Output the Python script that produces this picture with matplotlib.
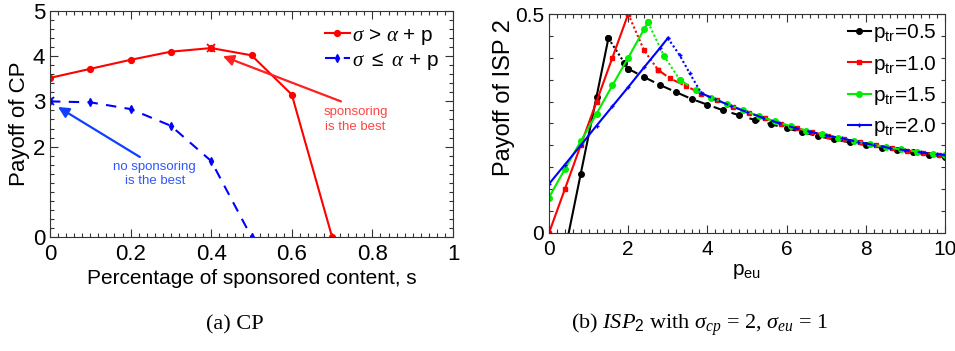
import numpy as np
import matplotlib
matplotlib.use("Agg")
import matplotlib.pyplot as plt
from matplotlib.ticker import MultipleLocator, FixedLocator

# ========== [DATA] ==========

# panel (a): payoff of CP vs share of sponsored content
s_vals = [0.0, 0.1, 0.2, 0.3, 0.4, 0.5, 0.6, 0.7]
cp_high = [3.52, 3.72, 3.92, 4.10, 4.18, 4.02, 3.15, 0.0]   # sigma > alpha + p
s_vals_low = [0.0, 0.1, 0.2, 0.3, 0.4, 0.5]
cp_low = [3.0, 2.98, 2.83, 2.46, 1.68, 0.0]                  # sigma <= alpha + p

s_ticks = [0, 0.2, 0.4, 0.6, 0.8, 1.0]
s_ticklabels = ["0", "0.2", "0.4", "0.6", "0.8", "1"]
cp_ticks = [0, 2, 3, 4, 5]

# panel (b): payoff of ISP 2 vs p_eu, one entry per p_tr
p_tr = ["0.5", "1.0", "1.5", "2.0"]

# rising part (solid)
peu_up = [
    [0.4, 0.8, 1.2, 1.5],
    [0.0, 0.4, 0.8, 1.2, 1.6, 2.0],
    [0.0, 0.4, 0.8, 1.2, 1.6, 2.0, 2.4, 2.5],
    [0.0, 0.4, 0.8, 1.2, 1.6, 2.0, 2.4, 2.8, 3.0],
]
isp_up = [
    [-0.043, 0.1345, 0.311, 0.4445],
    [0.0, 0.10, 0.20, 0.30, 0.40, 0.50],
    [0.081, 0.146, 0.209, 0.272, 0.337, 0.400, 0.465, 0.481],
    [0.112, 0.156, 0.200, 0.245, 0.289, 0.333, 0.378, 0.422, 0.445],
]
# just after the peak (dotted)
peu_mid = [
    [1.5, 1.9, 2.0],
    [2.0, 2.4, 2.75],
    [2.5, 2.9, 3.3],
    [3.0, 3.3, 3.55, 3.85],
]
isp_mid = [
    [0.4445, 0.389, 0.375],
    [0.50, 0.417, 0.373],
    [0.481, 0.405, 0.350],
    [0.445, 0.406, 0.365, 0.319],
]
# tail (dashed)
peu_tail = [
    [2.0, 2.4, 2.8, 3.2, 3.6, 4.0, 4.4, 4.8, 5.2, 5.6, 6.0, 6.4, 6.8, 7.2, 7.6, 8.0, 8.4, 8.8, 9.2, 9.6, 10.0],
    [2.75, 3.05, 3.45, 3.85, 4.25, 4.65, 5.05, 5.45, 5.85, 6.25, 6.65, 7.05, 7.45, 7.85, 8.25, 8.65, 9.05, 9.45, 9.85],
    [3.3, 3.7, 4.1, 4.5, 4.9, 5.3, 5.7, 6.1, 6.5, 6.9, 7.3, 7.7, 8.1, 8.5, 8.9, 9.3, 9.7, 10.0],
    [3.85, 4.2, 4.6, 5.0, 5.4, 5.8, 6.2, 6.6, 7.0, 7.4, 7.8, 8.2, 8.6, 9.0, 9.4, 9.8, 10.0],
]
isp_tail = [
    [0.375, 0.356, 0.338, 0.322, 0.306, 0.293, 0.280, 0.269, 0.258, 0.2485, 0.239, 0.230, 0.221, 0.2135,
     0.207, 0.2006, 0.195, 0.189, 0.184, 0.1786, 0.173],
    [0.373, 0.353, 0.336, 0.318, 0.303, 0.288, 0.275, 0.262, 0.250, 0.239, 0.230, 0.222, 0.215, 0.207,
     0.200, 0.193, 0.188, 0.183, 0.179],
    [0.350, 0.326, 0.309, 0.294, 0.280, 0.267, 0.255, 0.244, 0.234, 0.226, 0.218, 0.210, 0.203, 0.196,
     0.191, 0.186, 0.181, 0.178],
    [0.319, 0.305, 0.290, 0.276, 0.263, 0.251, 0.240, 0.231, 0.223, 0.216, 0.208, 0.201, 0.194, 0.189,
     0.184, 0.180, 0.178],
]

colors = ["black", "#ff0000", "#00ee00", "#0000ff"]
markers = ["o", "s", "o", "+"]
msizes = [4, 3.2, 4, 3.5]

# ========== [STYLE] ==========

plt.rcParams["font.family"] = ["Liberation Sans", "DejaVu Sans"]
plt.rcParams["mathtext.fontset"] = "custom"
plt.rcParams["mathtext.rm"] = "Liberation Sans"
plt.rcParams["mathtext.it"] = "Liberation Serif:italic"
plt.rcParams["mathtext.sf"] = "Liberation Sans"


def style_axes(ax):
    ax.tick_params(which="both", direction="in", top=True, right=True, width=0.8, colors="#333333",
                   labelcolor="black")
    ax.tick_params(which="major", length=6)
    ax.tick_params(which="minor", length=3)
    for sp in ax.spines.values():
        sp.set_color("#333333")
        sp.set_linewidth(0.8)


fig = plt.figure(figsize=(9.55, 3.51), dpi=100)

# ========== [PANEL (a)] ==========

ax1 = fig.add_axes([50 / 955, 1 - 237 / 351, 403 / 955, 226 / 351])
ax1.plot(s_vals, cp_high, "-", color="#ff0000", lw=1.5, marker="o", ms=4.2,
         label=r"$\sigma$ > $\alpha$ + p")
ax1.plot(s_vals_low, cp_low, "--", color="#0000ff", lw=1.5, marker="d", ms=3.6, dashes=(5, 4),
         label=r"$\sigma$ $\leq$ $\alpha$ + p")

# best points marked with x
ib = int(np.argmax(cp_high))
ax1.plot(s_vals[ib], cp_high[ib], "x", color="#ff0000", ms=6, mew=1.3)
ib = int(np.argmax(cp_low))
ax1.plot(s_vals_low[ib], cp_low[ib], "x", color="#0000ff", ms=6, mew=1.3)

# arrows drawn from their tails, texts placed beside them
ax1.annotate("", xy=(0.429, 4.0), xytext=(0.722, 3.0),
             arrowprops=dict(arrowstyle="-|>", color="#ff2020", lw=1.6, mutation_scale=16,
                             shrinkA=0, shrinkB=0))
ax1.text(0.758, 2.6, "sponsoring\nis the best", color="#ff4444", fontsize=9.5,
         ha="center", va="center", linespacing=1.25)
ax1.annotate("", xy=(0.02, 2.876), xytext=(0.223, 1.77),
             arrowprops=dict(arrowstyle="-|>", color="#1040ff", lw=1.6, mutation_scale=16,
                             shrinkA=0, shrinkB=0))
ax1.text(0.26, 1.4, "no sponsoring\nis the best", color="#3355ff", fontsize=9.5,
         ha="center", va="center", linespacing=1.25)

ax1.set_xlim(0, 1)
ax1.set_ylim(0, 5)
ax1.xaxis.set_major_locator(FixedLocator(s_ticks))
ax1.xaxis.set_minor_locator(MultipleLocator(0.02))
ax1.yaxis.set_major_locator(FixedLocator(cp_ticks))
ax1.yaxis.set_minor_locator(MultipleLocator(0.2))
ax1.set_xticklabels(s_ticklabels)
ax1.tick_params(labelsize=16)
ax1.tick_params(axis="x", pad=5)
style_axes(ax1)
ax1.set_xlabel("Percentage of sponsored content, s", fontsize=15, labelpad=3)
ax1.set_ylabel("Payoff of CP", fontsize=16, labelpad=2)
ax1.legend(loc="upper right", fontsize=15, frameon=False, handlelength=1.2, handletextpad=0.1,
           borderaxespad=0.3, labelspacing=0.2)

# ========== [PANEL (b)] ==========

ax2 = fig.add_axes([549 / 955, 1 - 233 / 351, 396 / 955, 219 / 351])
for i in range(len(p_tr)):
    kw = dict(color=colors[i], marker=markers[i], ms=msizes[i], mew=1.0, lw=1.5)
    ax2.plot(peu_up[i], isp_up[i], "-", label=r"p$_{\mathrm{tr}}$=" + p_tr[i], **kw)
    ax2.plot(peu_mid[i], isp_mid[i], ":", dashes=(1, 1.2), **kw)
    ax2.plot(peu_tail[i], isp_tail[i], "--", dashes=(5, 4), **kw)

ax2.set_xlim(0, 10)
ax2.set_ylim(0, 0.5)
ax2.xaxis.set_major_locator(MultipleLocator(2))
ax2.xaxis.set_minor_locator(MultipleLocator(0.2))
ax2.yaxis.set_major_locator(FixedLocator([0, 0.5]))
ax2.yaxis.set_minor_locator(MultipleLocator(0.05))
ax2.set_yticklabels(["0", "0.5"])
ax2.tick_params(labelsize=15)
ax2.tick_params(axis="x", pad=5)
style_axes(ax2)
ax2.set_xlabel(r"p$_{\mathrm{eu}}$", fontsize=15, labelpad=2)
ax2.set_ylabel("Payoff of ISP 2", fontsize=17)
ax2.yaxis.set_label_coords(-0.085, 0.62)
ax2.legend(loc="upper right", fontsize=15, frameon=False, handlelength=1.1, handletextpad=0.1,
           borderaxespad=0.1, borderpad=0.3, labelspacing=0.45)

# ========== [CAPTIONS] ==========

fig.text(235 / 955, 1 - 325 / 351, "(a) CP", fontsize=16, family="Liberation Serif",
         ha="center", va="center")
fig.text(700 / 955, 1 - 325 / 351, r"(b) $ISP_2$ with $\sigma_{cp}$ = 2, $\sigma_{eu}$ = 1", fontsize=16,
         family="Liberation Serif", ha="center", va="center")

plt.savefig("out.png", dpi=100)
